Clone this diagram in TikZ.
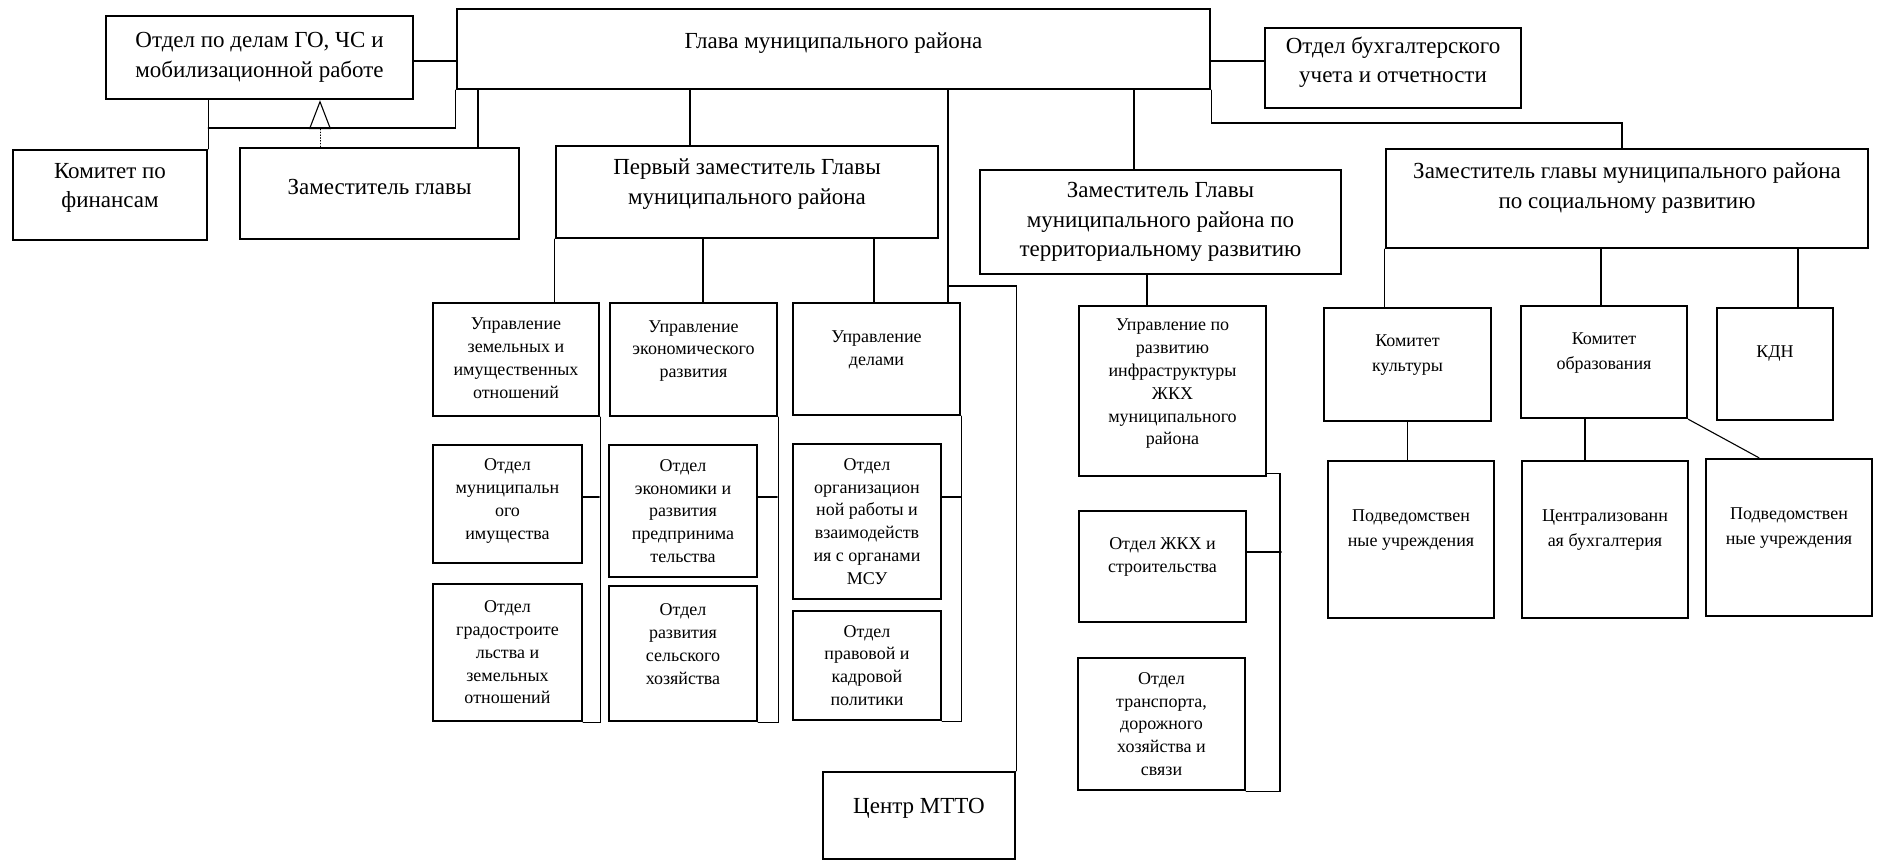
\documentclass[tikz,border=0pt]{standalone}
\usepackage{fontspec}
\setmainfont{Liberation Serif}
\usetikzlibrary{arrows.meta}
\tikzset{box/.style={draw, line width=2.4pt, inner sep=0pt},
  big/.style={align=center, font=\fontsize{23}{29.5}\selectfont},
  small/.style={align=center, font=\fontsize{18}{22.8}\selectfont},
  mid/.style={align=center, font=\fontsize{18}{24.5}\selectfont},
  link/.style={line width=1.1pt}}

\begin{document}
\begin{tikzpicture}[x=1pt, y=-1pt, line cap=round]

  \useasboundingbox (0,0) rectangle (1880,862);

  % top level
  \node[box, minimum width=307pt, minimum height=83pt] (go) at (259.5,57.5) {};
  \node[big] (go-t) at (go) {Отдел по делам ГО, ЧС и\\мобилизационной работе};
  \node[box, minimum width=753pt, minimum height=80pt] (glava) at (833.5,49) {};
  \node[big] (glava-t) at ([yshift=6pt]glava) {Глава муниципального района};
  \node[box, minimum width=256pt, minimum height=80pt] (buh) at (1393,68) {};
  \node[big] (buh-t) at ([yshift=6pt]buh) {Отдел бухгалтерского\\учета и отчетности};

  \node[box, minimum width=194pt, minimum height=90pt] (fin) at (110,195) {};
  \node[big] (fin-t) at ([yshift=7pt]fin) {Комитет по\\финансам};
  \node[box, minimum width=279pt, minimum height=91pt] (zam) at (379.5,193.5) {};
  \node[big] (zam-t) at ([yshift=6.5pt]zam) {Заместитель главы};
  \node[box, minimum width=382pt, minimum height=92pt] (perv) at (747,192) {};
  \node[big] (perv-t) at ([yshift=8pt]perv) {Первый заместитель Главы\\муниципального района};
  \node[box, minimum width=361pt, minimum height=104pt] (terr) at (1160.5,222) {};
  \node[big] (terr-t) at (terr) {Заместитель Главы\\муниципального района по\\территориальному развитию};
  \node[box, minimum width=482pt, minimum height=99pt] (soc) at (1627,198.5) {};
  \node[big] (soc-t) at ([yshift=10.5pt]soc) {Заместитель главы муниципального района\\по социальному развитию};

  % first deputy
  \node[box, minimum width=166pt, minimum height=113pt] (uzem) at (516,359.5) {};
  \node[small] (uzem-t) at ([yshift=1.5pt]uzem) {Управление\\земельных и\\имущественных\\отношений};
  \node[box, minimum width=167pt, minimum height=113pt] (uecon) at (693.5,359.5) {};
  \node[small] (uecon-t) at ([yshift=8.5pt]uecon) {Управление\\экономического\\развития};
  \node[box, minimum width=167pt, minimum height=112pt] (udel) at (876.5,359) {};
  \node[small] (udel-t) at ([yshift=9pt]udel) {Управление\\делами};

  \node[box, minimum width=149pt, minimum height=118pt] (omun) at (507.5,504) {};
  \node[small] (omun-t) at ([yshift=3pt]omun) {Отдел\\муниципальн\\ого\\имущества};
  \node[box, minimum width=149pt, minimum height=137pt] (ograd) at (507.5,652.5) {};
  \node[small] (ograd-t) at (ograd) {Отдел\\градостроите\\льства и\\земельных\\отношений};
  \node[box, minimum width=148pt, minimum height=132pt] (oecon) at (683,511) {};
  \node[small] (oecon-t) at (oecon) {Отдел\\экономики и\\развития\\предпринима\\тельства};
  \node[box, minimum width=148pt, minimum height=135pt] (oselh) at (683,653.5) {};
  \node[small] (oselh-t) at ([yshift=9.5pt]oselh) {Отдел\\развития\\сельского\\хозяйства};
  \node[box, minimum width=148pt, minimum height=155pt] (oorg) at (867,521.5) {};
  \node[small] (oorg-t) at (oorg) {Отдел\\организацион\\ной работы и\\взаимодейств\\ия с органами\\МСУ};
  \node[box, minimum width=148pt, minimum height=109pt] (oprav) at (867,665.5) {};
  \node[small] (oprav-t) at (oprav) {Отдел\\правовой и\\кадровой\\политики};

  \node[box, minimum width=192pt, minimum height=87pt] (mtto) at (919,815.5) {};
  \node[big] (mtto-t) at ([yshift=7.5pt]mtto) {Центр МТТО};

  % territorial
  \node[box, minimum width=187pt, minimum height=170pt] (uinf) at (1172.5,391) {};
  \node[small] (uinf-t) at ([yshift=7pt]uinf) {Управление по\\развитию\\инфраструктуры\\ЖКХ\\муниципального\\района};
  \node[box, minimum width=167pt, minimum height=111pt] (ozhkh) at (1162.5,566.5) {};
  \node[small] (ozhkh-t) at ([yshift=9.5pt]ozhkh) {Отдел ЖКХ и\\строительства};
  \node[box, minimum width=167pt, minimum height=132pt] (otrans) at (1161.5,724) {};
  \node[small] (otrans-t) at (otrans) {Отдел\\транспорта,\\дорожного\\хозяйства и\\связи};

  % social
  \node[box, minimum width=167pt, minimum height=113pt] (kult) at (1407.5,364.5) {};
  \node[mid] (kult-t) at ([yshift=9.5pt]kult) {Комитет\\культуры};
  \node[box, minimum width=166pt, minimum height=112pt] (obr) at (1604,362) {};
  \node[mid] (obr-t) at ([yshift=9pt]obr) {Комитет\\образования};
  \node[box, minimum width=116pt, minimum height=112pt] (kdn) at (1775,364) {};
  \node[mid] (kdn-t) at ([yshift=10pt]kdn) {КДН};
  \node[box, minimum width=166pt, minimum height=157pt] (pod1) at (1411,539.5) {};
  \node[mid] (pod1-t) at ([yshift=9.5pt]pod1) {Подведомствен\\ные учреждения};
  \node[box, minimum width=166pt, minimum height=157pt] (centr) at (1605,539.5) {};
  \node[mid] (centr-t) at ([yshift=9.5pt]centr) {Централизованн\\ая бухгалтерия};
  \node[box, minimum width=166pt, minimum height=157pt] (pod2) at (1789,537.5) {};
  \node[mid] (pod2-t) at ([yshift=9.5pt]pod2) {Подведомствен\\ные учреждения};

  % links from the head
  \draw[link] (go.east |- 0,61) -- (glava.west |- 0,61);
  \draw[link] (glava.east |- 0,61) -- (buh.west |- 0,61);
  \draw[link] (glava.south west) -- (glava.south west |- 0,128) -- (fin.north east |- 0,128);
  \draw[link] (go.south -| fin.north east) -- (fin.north east);
  \draw[line width=0.8pt, dotted, -{Triangle[open, length=29pt, width=22pt, line width=1.1pt]}] (zam.north -| 320,0) -- (go.south -| 320,0);
  \draw[link] (glava.south -| 478,0) -- (zam.north -| 478,0);
  \draw[link] (glava.south -| 690,0) -- (perv.north -| 690,0);
  \draw[link] (glava.south -| 948,0) -- (udel.north -| 948,0);
  \coordinate (split) at (948,286);
  \draw[link] (split) -| (mtto.north east);
  \draw[link] (glava.south -| 1134,0) -- (terr.north -| 1134,0);
  \draw[link] (glava.south east) -- (glava.south east |- 0,123) -| (soc.north -| 1622,0);

  % first deputy links
  \draw[link] (perv.south west) -- (perv.south west |- uzem.north);
  \draw[link] (perv.south -| 703,0) -- (uecon.north -| 703,0);
  \draw[link] (perv.south -| 874,0) -- (udel.north -| 874,0);
  \draw[link] (uzem.south east) -- (uzem.south east |- ograd.south) -- (ograd.south east);
  \draw[link] ([yshift=7pt]omun.east) -- +(16,0);
  \draw[link] (uecon.south east) -- (uecon.south east |- oselh.south) -- (oselh.south east);
  \draw[link] ([yshift=14pt]oecon.east) -- +(19,0);
  \draw[link] (udel.south east) -- (udel.south east |- oprav.south) -- (oprav.south east);
  \draw[link] ([yshift=24.5pt]oorg.east) -- +(19,0);

  % territorial links
  \draw[link] (terr.south -| 1147,0) -- (uinf.north -| 1147,0);
  \draw[link] ([yshift=4pt]uinf.south east) -| (otrans.south east -| 1280,0) -- (otrans.south east);
  \draw[link] ([yshift=14.5pt]ozhkh.east) -- +(34,0);

  % social links
  \draw[link] (soc.south west) -- (soc.south west |- kult.north);
  \draw[link] (soc.south -| 1601,0) -- (obr.north -| 1601,0);
  \draw[link] (soc.south -| 1798,0) -- (kdn.north -| 1798,0);
  \draw[link] (kult.south) -- (kult.south |- pod1.north);
  \draw[link] (obr.south -| 1585,0) -- (centr.north -| 1585,0);
  \draw[link] (obr.south east) -- (pod2.north -| 1759,0);

\end{tikzpicture}
\end{document}
